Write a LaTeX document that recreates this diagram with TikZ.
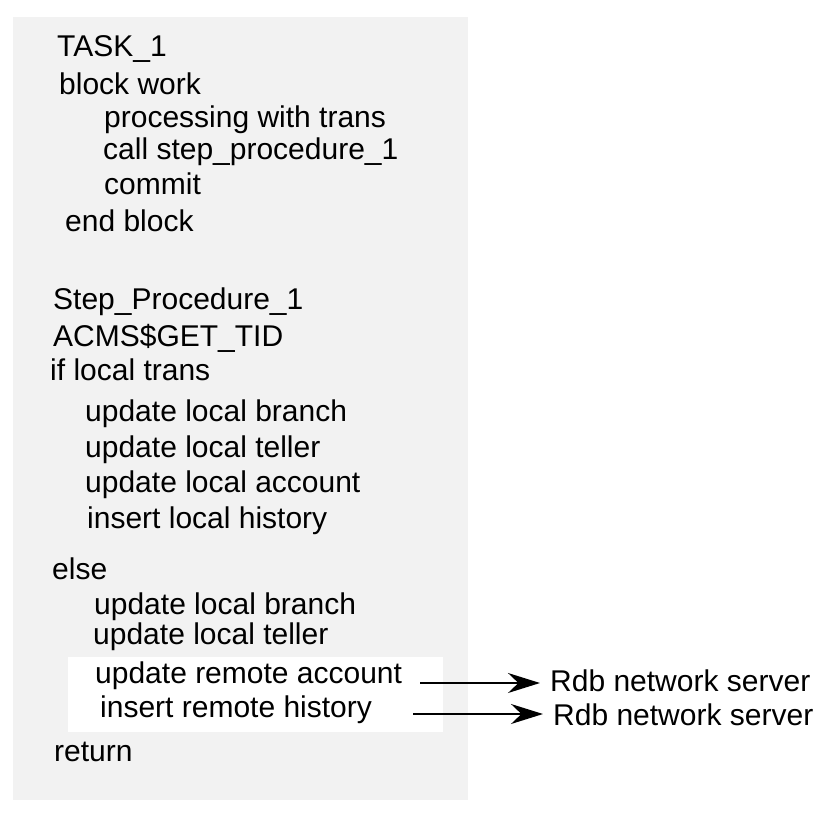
\documentclass[tikz,border=0pt]{standalone}
\usepackage{fontspec}
\setmainfont{Liberation Sans}
\usetikzlibrary{arrows.meta}
\begin{document}
\begin{tikzpicture}[x=1pt,y=-1pt,
  t/.style={anchor=west,inner sep=0pt,font=\fontsize{30}{34}\selectfont},
  arr/.style={-{Stealth[length=32pt,width=20pt]},line width=1.5pt,shorten >=10pt}]
\useasboundingbox (0,0) rectangle (823,815);
\fill[fill={rgb,255:red,242;green,242;blue,242}] (13,17) rectangle (468,800);
\fill[white] (68,657) rectangle (443,732);
\node[t] (a1) at (57,49) {TASK\_1};
\node[t] (a2) at (59,84) {block work};
\node[t] (a3) at (104,120) {processing with trans};
\node[t] (a4) at (103,152) {call step\_procedure\_1};
\node[t] (a5) at (104,184) {commit};
\node[t] (a6) at (65,221) {end block};
\node[t] (b1) at (53,302) {Step\_Procedure\_1};
\node[t] (b2) at (53,338) {ACMS\$GET\_TID};
\node[t] (b3) at (50,370) {if local trans};
\node[t] (b4) at (85,414) {update local branch};
\node[t] (b5) at (85,450) {update local teller};
\node[t] (b6) at (85,485) {update local account};
\node[t] (b7) at (87,521) {insert local history};
\node[t] (c1) at (52,569) {else};
\node[t] (c2) at (94,607) {update local branch};
\node[t] (c3) at (93,637) {update local teller};
\node[t] (c4) at (95,676) {update remote account};
\node[t] (c5) at (100,710) {insert remote history};
\node[t] (c6) at (54,752) {return};
\node[t] (r1) at (550,681) {Rdb network server};
\node[t] (r2) at (553,715) {Rdb network server};
\coordinate (s1) at (420,683);
\coordinate (s2) at (413,714);
\draw[arr] (s1) -- (s1 -| r1.west);
\draw[arr] (s2) -- (s2 -| r2.west);
\end{tikzpicture}
\end{document}
